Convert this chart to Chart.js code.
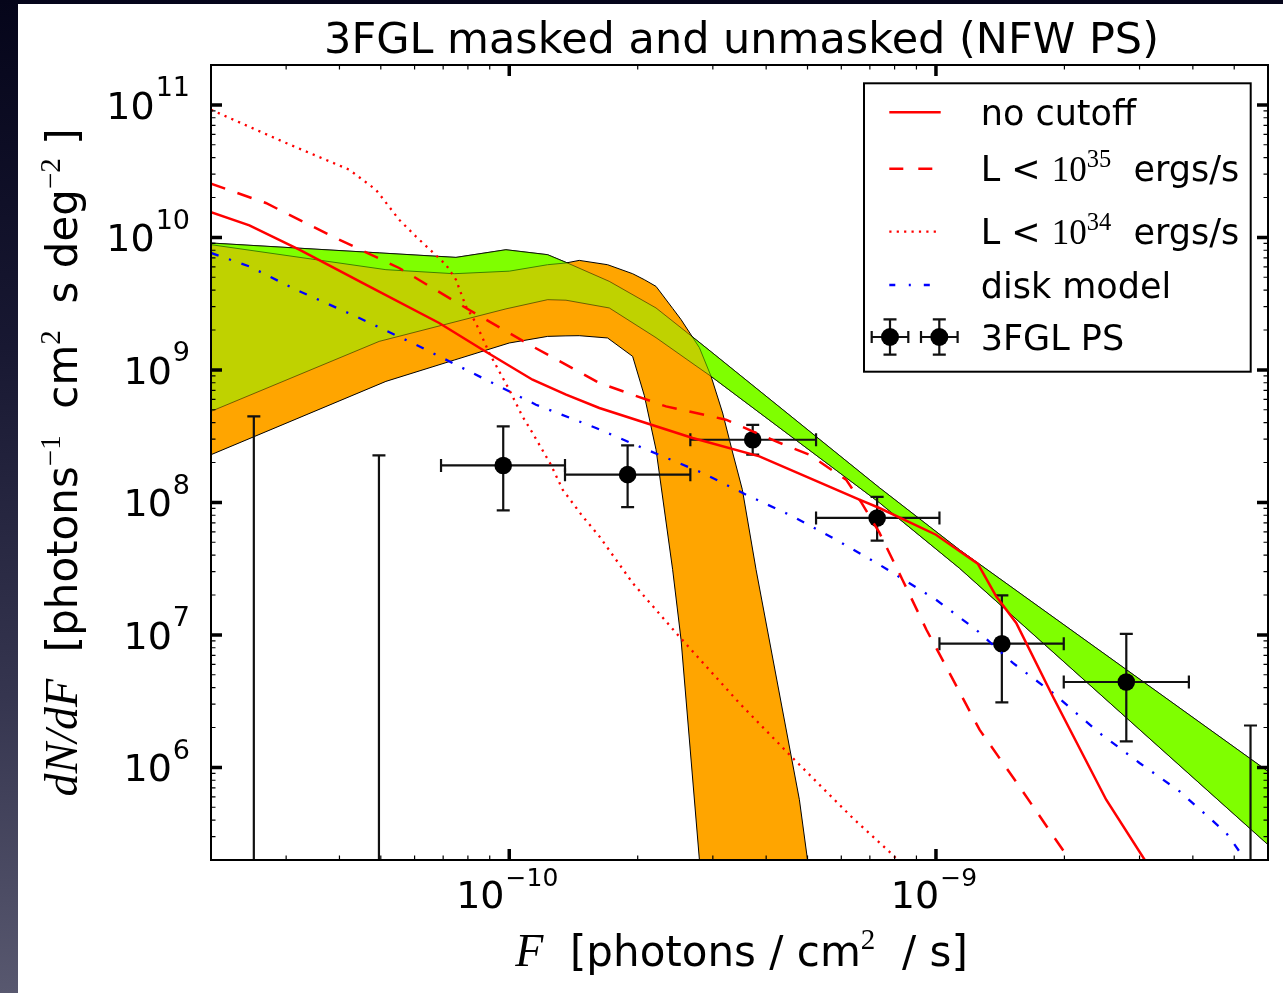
<!DOCTYPE html>
<html>
<head>
<meta charset="utf-8">
<script src="https://cdn.jsdelivr.net/npm/chart.js@4.4.1/dist/chart.umd.min.js"></script>
<style>
  html, body { margin: 0; padding: 0; background: #fff; overflow: hidden; }
  #wrap { position: relative; width: 1283px; height: 993px; }
</style>
</head>
<body>
<div id="wrap"><canvas id="c" width="1283" height="993"></canvas></div>
<script>
// ---------------- data ----------------
// 3FGL point-source histogram: bin centres / edges in F, counts and error bounds in dN/dF
const binFlux  = [2.52e-11, 4.95e-11, 9.68e-11, 1.894e-10, 3.72e-10, 7.28e-10, 1.427e-9, 2.793e-9, 5.46e-9];
const binLow   = [1.8e-11, 3.5e-11, 6.92e-11, 1.351e-10, 2.657e-10, 5.236e-10, 1.019e-9, 1.993e-9, 3.915e-9];
const binHigh  = [3.5e-11, 6.92e-11, 1.351e-10, 2.657e-10, 5.236e-10, 1.019e-9, 1.993e-9, 3.915e-9, 7.7e-9];
const psCounts = [0, 0, 1.90e8, 1.62e8, 2.97e8, 7.63e7, 8.58e6, 4.41e6, 0];
const psErrLow = [0, 0, 8.7e7, 9.2e7, 2.29e8, 5.14e7, 3.09e6, 1.57e6, 0];
const psErrHigh = [4.46e8, 2.26e8, 3.75e8, 2.69e8, 3.85e8, 1.10e8, 1.99e7, 1.016e7, 2.07e6];

// NFW PS model, no luminosity cutoff
const noCutoffF = [2.0e-11, 2.46e-11, 3.22e-11, 4.61e-11, 6.85e-11, 8.66e-11, 1.134e-10, 1.359e-10, 1.626e-10, 2.091e-10, 2.69e-10, 3.857e-10, 6.615e-10, 7.37e-10, 1.0e-9, 1.253e-9, 1.384e-9, 1.542e-9, 1.879e-9, 2.506e-9, 3.083e-9, 3.43e-9];
const noCutoffN = [1.55e10, 1.232e10, 8.07e9, 4.40e9, 2.26e9, 1.42e9, 8.43e8, 6.50e8, 5.16e8, 3.97e8, 3.06e8, 2.225e8, 1.048e8, 9.07e7, 5.70e7, 3.45e7, 1.953e7, 1.23e7, 3.43e6, 5.70e5, 2.01e5, 1.15e5];

// L < 1e35 erg/s
const cut35F = [2.0e-11, 2.689e-11, 3.853e-11, 5.52e-11, 7.915e-11, 1.134e-10, 1.626e-10, 2.33e-10, 3.22e-10, 4.218e-10, 5.05e-10, 6.157e-10, 6.668e-10, 7.37e-10, 8.345e-10, 9.50e-10, 1.087e-9, 1.265e-9, 1.57e-9, 2.056e-9, 2.29e-9];
const cut35N = [2.543e10, 1.818e10, 1.017e10, 5.875e9, 2.933e9, 1.504e9, 7.96e8, 5.30e8, 4.21e8, 2.886e8, 2.291e8, 1.484e8, 1.012e8, 5.905e7, 2.61e7, 1.094e7, 4.836e6, 1.925e6, 7.15e5, 2.01e5, 1.19e5];

// L < 1e34 erg/s
const cut34F = [2.0e-11, 2.94e-11, 4.216e-11, 4.87e-11, 5.52e-11, 6.04e-11, 7.106e-11, 7.50e-11, 7.915e-11, 8.35e-11, 8.98e-11, 9.475e-11, 1.0e-10, 1.074e-10, 1.134e-10, 1.252e-10, 1.334e-10, 1.486e-10, 1.626e-10, 1.946e-10, 2.46e-10, 3.46e-10, 4.617e-10, 6.38e-10, 7.92e-10, 8.43e-10];
const cut34N = [9.2e10, 5.30e10, 3.243e10, 2.29e10, 1.36e10, 1.017e10, 6.22e9, 4.795e9, 3.015e9, 2.26e9, 1.341e9, 9.74e8, 7.09e8, 4.457e8, 3.34e8, 1.925e8, 1.247e8, 7.84e7, 5.54e7, 2.465e7, 1.034e7, 3.06e6, 1.177e6, 4.15e5, 2.19e5, 1.75e5];

// disk model
const diskF = [2.0e-11, 2.46e-11, 3.162e-11, 4.37e-11, 6.04e-11, 8.2e-11, 1.155e-10, 1.597e-10, 2.054e-10, 2.84e-10, 3.59e-10, 4.617e-10, 5.834e-10, 7.37e-10, 1.0e-9, 1.242e-9, 1.514e-9, 1.879e-9, 2.416e-9, 3.0e-9, 3.724e-9, 4.79e-9, 5.24e-9, 5.58e-9];
const diskN = [7.63e9, 6.04e9, 4.03e9, 2.534e9, 1.55e9, 9.48e8, 5.46e8, 3.644e8, 2.574e8, 1.667e8, 1.143e8, 7.84e7, 5.23e7, 3.387e7, 1.844e7, 1.094e7, 6.14e6, 3.644e6, 1.818e6, 1.079e6, 6.59e5, 3.2e5, 2.13e5, 1.63e5];

// unmasked fit band (green)
const unmaskedF  = [2.0e-11, 4.957e-11, 7.5e-11, 9.82e-11, 1.23e-10, 1.358e-10, 1.716e-10, 2.208e-10, 2.74e-10, 2.972e-10, 7.37e-10, 1.135e-9, 6.0e-9, 6.74e-9];
const unmaskedHi = [9.07e9, 7.64e9, 7.065e9, 8.07e9, 7.405e9, 6.48e9, 4.655e9, 2.933e9, 1.69e9, 1.37e9, 1.291e8, 4.395e7, 9.33e5, 7.09e5];
const unmaskedLo = [4.863e8, 1.641e9, 2.311e9, 2.886e9, 3.387e9, 3.357e9, 2.933e9, 1.75e9, 1.072e9, 8.93e8, 9.95e7, 3.187e7, 2.61e5, 1.86e5];

// masked fit band (orange)
const maskedF  = [2.0e-11, 5.14e-11, 7.43e-11, 1.0e-10, 1.23e-10, 1.358e-10, 1.459e-10, 1.70e-10, 1.946e-10, 2.073e-10, 2.208e-10, 2.415e-10, 2.527e-10, 2.79e-10, 2.972e-10, 3.163e-10, 3.34e-10, 3.518e-10, 3.788e-10, 4.786e-10, 5.0e-10, 5.33e-10];
const maskedHi = [8.81e9, 5.705e9, 5.32e9, 5.56e9, 6.22e9, 6.41e9, 6.705e9, 6.22e9, 5.32e9, 4.795e9, 4.267e9, 2.912e9, 2.397e9, 1.471e9, 8.93e8, 4.73e8, 2.36e8, 1.247e8, 3.105e7, 5.70e5, 2.01e5, 1.0e5];
const maskedLo = [2.29e8, 8.19e8, 1.186e9, 1.596e9, 1.79e9, 1.806e9, 1.812e9, 1.741e9, 1.265e9, 6.39e8, 2.5e8, 3.105e7, 9.2e6, 2.01e5, 1e2, 1e2, 1e2, 1e2, 1e2, 1e2, 1e2, 1e2];

// axes
const xMajorTicks = [1e-10, 1e-9];
const yMajorTicks = [1e6, 1e7, 1e8, 1e9, 1e10, 1e11];
const xRange = [2e-11, 6e-9];
const yRange = [2e5, 2e11];

const titleText = '3FGL masked and unmasked (NFW PS)';
const legendLabels = ['no cutoff', 'L < ', 'L < ', 'disk model', '3FGL PS'];

// ---------------- helpers ----------------
const SANS = '"DejaVu Sans", sans-serif';
const SERIF = '"Liberation Serif", serif';
const GREEN = '#7fff00';
const ORANGE = '#ffa500';
const pts = (xs, ys) => xs.map((v, i) => ({ x: v, y: ys[i] }));

function richWidth(ctx, parts) {
  let w = 0;
  for (const p of parts) { ctx.font = p.font; w += ctx.measureText(p.text).width + (p.pad || 0); }
  return w;
}
function drawRich(ctx, parts, x, y, align) {
  const w = richWidth(ctx, parts);
  let cx = align === 'center' ? x - w / 2 : align === 'right' ? x - w : x;
  ctx.textAlign = 'left';
  ctx.textBaseline = 'alphabetic';
  for (const p of parts) {
    ctx.font = p.font;
    ctx.fillText(p.text, cx, y + (p.dy || 0));
    cx += ctx.measureText(p.text).width + (p.pad || 0);
  }
}
function logTicks(min, max) {
  const major = [], minor = [];
  for (let e = Math.floor(Math.log10(min)); e <= Math.ceil(Math.log10(max)); e++) {
    for (let m = 1; m < 10; m++) {
      const v = m * Math.pow(10, e);
      if (v < min * 0.999 || v > max * 1.001) continue;
      (m === 1 ? major : minor).push(v);
    }
  }
  return { major, minor };
}

// ---------------- datasets ----------------
const bandLine = (data, fill, bg, border, order) => ({
  type: 'line', data, fill, backgroundColor: bg, borderColor: border,
  borderWidth: 1, pointRadius: 0, order
});
const curve = (data, color, dash, width, order) => ({
  type: 'line', data, fill: false, borderColor: color, borderWidth: width,
  borderDash: dash, pointRadius: 0, order
});

const PS_INDEX = 6;
const DASH = [15, 13];
const DOT = [2.2, 5.2];
const DASHDOT = [8, 11, 2.2, 11];
const datasets = [
  bandLine(pts(unmaskedF, unmaskedHi), 1, GREEN, '#000', 20),                        // 0
  bandLine(pts(unmaskedF, unmaskedLo), false, GREEN, '#000', 19),                    // 1
  bandLine(pts(maskedF, maskedHi), 3, ORANGE, '#000', 18),                           // 2
  bandLine(pts(maskedF, maskedLo), false, ORANGE, '#000', 17),                       // 3
  bandLine(pts(unmaskedF, unmaskedHi), 5, 'rgba(127,255,0,0.5)', 'rgba(0,0,0,0.5)', 16), // 4
  bandLine(pts(unmaskedF, unmaskedLo), false, 'rgba(0,0,0,0)', 'rgba(0,0,0,0.5)', 15),   // 5
  { type: 'scatter', data: binFlux.map((f, i) => ({ x: f, y: psCounts[i] })).filter(p => p.y > 0),
    backgroundColor: '#000', borderWidth: 0, pointRadius: 8.8, order: 10 },         // 6
  curve(pts(diskF, diskN), '#0000ff', DASHDOT, 2.3, 4),
  curve(pts(cut34F, cut34N), '#ff0000', DOT, 2.3, 3),
  curve(pts(cut35F, cut35N), '#ff0000', DASH, 2.5, 2),
  curve(pts(noCutoffF, noCutoffN), '#ff0000', [], 2.5, 1)
];

// ---------------- plugins ----------------
const backdrop = {
  id: 'backdrop',
  beforeDraw(chart) {
    const ctx = chart.ctx, W = chart.width, H = chart.height;
    ctx.save();
    const g = ctx.createLinearGradient(0, 0, 0, H);
    g.addColorStop(0, '#05051a');
    g.addColorStop(0.35, '#181832');
    g.addColorStop(0.7, '#35354f');
    g.addColorStop(1, '#58586f');
    ctx.fillStyle = g;
    ctx.fillRect(0, 0, W, H);
    ctx.fillStyle = '#ffffff';
    ctx.fillRect(18, 4, W - 18, H - 4);
    ctx.restore();
  }
};

const errorBars = {
  id: 'errorBars',
  beforeDatasetDraw(chart, args) {
    if (args.index !== PS_INDEX) return;
    const { ctx, chartArea: a, scales: { x, y } } = chart;
    ctx.save();
    ctx.beginPath();
    ctx.rect(a.left, a.top, a.right - a.left, a.bottom - a.top);
    ctx.clip();
    ctx.strokeStyle = '#111';
    ctx.lineWidth = 2.2;
    const cap = 6.5;
    for (let i = 0; i < binFlux.length; i++) {
      const px = x.getPixelForValue(binFlux[i]);
      const yTop = y.getPixelForValue(psErrHigh[i]);
      const yBot = psErrLow[i] > 0 ? y.getPixelForValue(psErrLow[i]) : a.bottom + 20;
      ctx.beginPath();
      ctx.moveTo(px, yTop); ctx.lineTo(px, yBot);
      ctx.moveTo(px - cap, yTop); ctx.lineTo(px + cap, yTop);
      if (psErrLow[i] > 0) { ctx.moveTo(px - cap, yBot); ctx.lineTo(px + cap, yBot); }
      ctx.stroke();
      if (psCounts[i] > 0) {
        const py = y.getPixelForValue(psCounts[i]);
        const xl = x.getPixelForValue(binLow[i]);
        const xr = x.getPixelForValue(binHigh[i]);
        ctx.beginPath();
        ctx.moveTo(xl, py); ctx.lineTo(xr, py);
        ctx.moveTo(xl, py - cap); ctx.lineTo(xl, py + cap);
        ctx.moveTo(xr, py - cap); ctx.lineTo(xr, py + cap);
        ctx.stroke();
      }
    }
    ctx.restore();
  }
};

const axisFrame = {
  id: 'axisFrame',
  afterDatasetsDraw(chart) {
    const { ctx, chartArea: a, scales: { x, y } } = chart;
    ctx.save();
    ctx.strokeStyle = '#000';
    const xt = logTicks(xRange[0], xRange[1]);
    const yt = logTicks(yRange[0], yRange[1]);
    const drawX = (vals, len, lw) => {
      ctx.lineWidth = lw;
      ctx.beginPath();
      for (const v of vals) {
        const p = x.getPixelForValue(v);
        ctx.moveTo(p, a.bottom); ctx.lineTo(p, a.bottom - len);
        ctx.moveTo(p, a.top); ctx.lineTo(p, a.top + len);
      }
      ctx.stroke();
    };
    const drawY = (vals, len, lw) => {
      ctx.lineWidth = lw;
      ctx.beginPath();
      for (const v of vals) {
        const p = y.getPixelForValue(v);
        ctx.moveTo(a.left, p); ctx.lineTo(a.left + len, p);
        ctx.moveTo(a.right, p); ctx.lineTo(a.right - len, p);
      }
      ctx.stroke();
    };
    drawX(xt.minor, 4.5, 1.2);
    drawY(yt.minor, 4.5, 1.2);
    drawX(xMajorTicks, 11, 3.5);
    drawY(yMajorTicks, 11, 3.5);
    ctx.lineWidth = 2;
    ctx.strokeRect(a.left, a.top, a.right - a.left, a.bottom - a.top);
    ctx.restore();
  }
};

const annotations = {
  id: 'annotations',
  afterDraw(chart) {
    const { ctx, chartArea: a, scales: { x, y } } = chart;
    ctx.save();
    ctx.fillStyle = '#000';
    const cx = (a.left + a.right) / 2, cy = (a.top + a.bottom) / 2;

    // title
    ctx.font = '43px ' + SANS;
    ctx.textAlign = 'center';
    ctx.textBaseline = 'alphabetic';
    ctx.fillText(titleText, cx + 2, 53);

    // y tick labels
    for (const v of yMajorTicks) {
      const e = Math.round(Math.log10(v));
      const p = y.getPixelForValue(v);
      drawRich(ctx, [
        { text: '10', font: '38px ' + SANS, pad: 1 },
        { text: String(e), font: '27px ' + SANS, dy: -22.5 }
      ], a.left - 21, p + 14, 'right');
    }
    // x tick labels
    for (const v of xMajorTicks) {
      const e = Math.round(Math.log10(v));
      const p = x.getPixelForValue(v);
      drawRich(ctx, [
        { text: '10', font: '38px ' + SANS, pad: 1 },
        { text: '\u2212' + String(-e), font: '25px ' + SANS, dy: -21.5 }
      ], p - 2, 907.5, 'center');
    }

    // x axis title
    drawRich(ctx, [
      { text: 'F', font: 'italic 46px ' + SERIF },
      { text: '  [photons / cm', font: '42px ' + SANS },
      { text: '2', font: '29px ' + SERIF, dy: -17.5 },
      { text: '  / s]', font: '42px ' + SANS }
    ], cx + 2, 966, 'center');

    // y axis title (rotated)
    ctx.save();
    ctx.translate(77, cy);
    ctx.rotate(-Math.PI / 2);
    drawRich(ctx, [
      { text: 'dN/dF', font: 'italic 46px ' + SERIF },
      { text: '  [photons', font: '42px ' + SANS },
      { text: '\u22121', font: '29px ' + SERIF, dy: -17.5 },
      { text: '  cm', font: '42px ' + SANS },
      { text: '2', font: '29px ' + SERIF, dy: -17.5 },
      { text: '  s deg', font: '42px ' + SANS },
      { text: '\u22122', font: '29px ' + SERIF, dy: -17.5 },
      { text: ' ]', font: '42px ' + SANS }
    ], 0, 0, 'center');
    ctx.restore();

    // legend
    const L = { left: 864, top: 83.3, right: 1250.7, bottom: 371.7 };
    ctx.fillStyle = '#fff';
    ctx.fillRect(L.left, L.top, L.right - L.left, L.bottom - L.top);
    ctx.strokeStyle = '#000';
    ctx.lineWidth = 2;
    ctx.strokeRect(L.left, L.top, L.right - L.left, L.bottom - L.top);

    const rows = [112.3, 168.7, 231.7, 285, 337];
    const sx0 = 889.3, sx1 = 940.7, tx = 980.7;
    const styles = [
      { color: '#ff0000', dash: [], w: 2.5 },
      { color: '#ff0000', dash: [14, 15], w: 2.5 },
      { color: '#ff0000', dash: DOT, w: 2.3 },
      { color: '#0000ff', dash: [6, 13.5, 2, 13], w: 2.3 }
    ];
    styles.forEach((s, i) => {
      ctx.strokeStyle = s.color;
      ctx.lineWidth = s.w;
      ctx.setLineDash(s.dash);
      ctx.beginPath();
      ctx.moveTo(sx0, rows[i]); ctx.lineTo(sx1, rows[i]);
      ctx.stroke();
    });
    ctx.setLineDash([]);
    // error-bar legend symbol, drawn twice
    ctx.strokeStyle = '#111';
    ctx.fillStyle = '#000';
    for (const mx of [890, 939.3]) {
      const my = rows[4];
      ctx.lineWidth = 2.2;
      ctx.beginPath();
      ctx.moveTo(mx - 18.3, my); ctx.lineTo(mx + 18.3, my);
      ctx.moveTo(mx - 18.3, my - 6); ctx.lineTo(mx - 18.3, my + 6);
      ctx.moveTo(mx + 18.3, my - 6); ctx.lineTo(mx + 18.3, my + 6);
      ctx.moveTo(mx, my - 17.7); ctx.lineTo(mx, my + 17.7);
      ctx.moveTo(mx - 6.5, my - 17.7); ctx.lineTo(mx + 6.5, my - 17.7);
      ctx.moveTo(mx - 6.5, my + 17.7); ctx.lineTo(mx + 6.5, my + 17.7);
      ctx.stroke();
      ctx.beginPath();
      ctx.arc(mx, my, 9, 0, Math.PI * 2);
      ctx.fill();
    }

    ctx.fillStyle = '#000';
    const lf = '35px ' + SANS;
    const tb = 12.5;
    drawRich(ctx, [{ text: legendLabels[0], font: lf }], tx, rows[0] + tb, 'left');
    for (const [i, e] of [[1, '35'], [2, '34']]) {
      drawRich(ctx, [
        { text: legendLabels[i], font: lf },
        { text: '10', font: '35px ' + SERIF },
        { text: e, font: '24.5px ' + SERIF, dy: -14.5 },
        { text: '  ergs/s', font: lf, pad: 0 }
      ], tx, rows[i] + tb, 'left');
    }
    drawRich(ctx, [{ text: legendLabels[3], font: lf }], tx, rows[3] + tb, 'left');
    drawRich(ctx, [{ text: legendLabels[4], font: lf }], tx, rows[4] + tb, 'left');
    ctx.restore();
  }
};

new Chart(document.getElementById('c'), {
  type: 'scatter',
  data: { datasets },
  options: {
    responsive: false,
    devicePixelRatio: 1,
    animation: false,
    events: [],
    layout: { padding: { left: 211, top: 65, right: 15, bottom: 133 } },
    scales: {
      x: { type: 'logarithmic', min: xRange[0], max: xRange[1], display: false },
      y: { type: 'logarithmic', min: yRange[0], max: yRange[1], display: false }
    },
    plugins: {
      legend: { display: false },
      tooltip: { enabled: false },
      title: { display: false }
    },
    elements: { line: { tension: 0 }, point: { radius: 0 } }
  },
  plugins: [backdrop, errorBars, axisFrame, annotations]
});
</script>
</body>
</html>
